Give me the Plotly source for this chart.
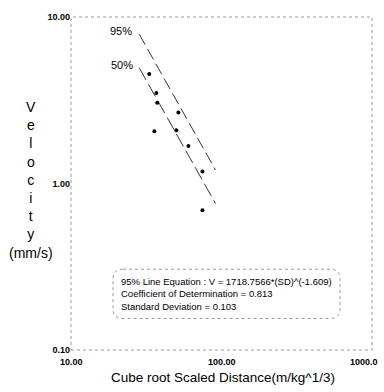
import numpy as np
import plotly.graph_objects as go

# Measured peak particle velocity vs cube-root scaled distance
scaled_distance = [33.1, 36.9, 37.4, 51.7, 35.8, 50.1, 60.3, 74.7, 74.7]
velocity = [4.54, 3.50, 3.06, 2.67, 2.06, 2.09, 1.68, 1.18, 0.69]

# Regression lines V = K * SD^(-b)
slope_b = 1.609
k_95 = 1718.7566
k_50 = 1080.0
line_sd_range = [28.4, 91.2]

x_ticks = [10, 100, 1000]
x_tick_text = ["10.00", "100.00", "1000.0"]
y_ticks = [0.1, 1, 10]
y_tick_text = ["0.10", "1.00", "10.00"]

equation_lines = [
    "95% Line Equation : V = 1718.7566*(SD)^(-1.609)",
    "Coefficient of Determination = 0.813",
    "Standard Deviation = 0.103",
]

W, H = 384, 392
L, R, T, B = 71, 12, 12, 42

sd_line = np.logspace(np.log10(line_sd_range[0]), np.log10(line_sd_range[1]), 50)
v95 = k_95 * sd_line ** (-slope_b)
v50 = k_50 * sd_line ** (-slope_b)

fig = go.Figure()
fig.add_trace(go.Scatter(x=sd_line, y=v95, mode="lines",
                         line=dict(color="#333", width=1, dash="12px,5px"), hoverinfo="skip"))
fig.add_trace(go.Scatter(x=sd_line, y=v50, mode="lines",
                         line=dict(color="#333", width=1, dash="14px,5px"), hoverinfo="skip"))
fig.add_trace(go.Scatter(x=scaled_distance, y=velocity, mode="markers",
                         marker=dict(color="black", size=4)))

tick_font = dict(family="Liberation Sans Narrow, Liberation Sans", size=9, color="black")
fig.update_xaxes(type="log", range=[1, 3], tickvals=x_ticks, showticklabels=False,
                 showgrid=False, zeroline=False, showline=False, ticks="")
fig.update_yaxes(type="log", range=[-1, 1], tickvals=y_ticks,
                 ticktext=["<b>%s</b>" % t for t in y_tick_text],
                 showgrid=False, zeroline=False, showline=False, ticks="",
                 tickfont=tick_font)

# X tick labels sit a little lower than the default position;
# the last one is kept inside the page edge
for i, (v, t) in enumerate(zip(x_ticks, x_tick_text)):
    last = i == len(x_ticks) - 1
    fig.add_annotation(x=np.log10(v), xref="x", y=0, yref="paper", yshift=-12,
                       xshift=8 if last else 0,
                       text="<b>%s</b>" % t, showarrow=False,
                       xanchor="right" if last else "center", yanchor="middle",
                       font=tick_font)

# Faint dotted frame around the plot area
fig.add_shape(type="rect", xref="paper", yref="paper", x0=0, x1=1, y0=0, y1=1,
              line=dict(color="#9a9a9a", width=1, dash="dot"))

# Line labels placed at the start of each line
lbl_font = dict(family="Liberation Sans Narrow, Liberation Sans", size=11, color="black")
fig.add_annotation(x=np.log10(sd_line[0]), y=np.log10(v95[0]), text="95%",
                   showarrow=False, xanchor="right", xshift=-5, yshift=3, font=lbl_font)
fig.add_annotation(x=np.log10(sd_line[0]), y=np.log10(v50[0]), text="50%",
                   showarrow=False, xanchor="right", xshift=-4, yshift=3, font=lbl_font)

# Equation box (rounded, dotted)
pw, ph = W - L - R, H - T - B
def px(xp):
    return (xp - L) / pw
def py(yp):
    return 1 - (yp - T) / ph
x0, x1, y0, y1, rr = 113, 340, 268, 318, 10
path = (f"M {px(x0+rr)},{py(y0)} L {px(x1-rr)},{py(y0)} "
        f"Q {px(x1)},{py(y0)} {px(x1)},{py(y0+rr)} L {px(x1)},{py(y1-rr)} "
        f"Q {px(x1)},{py(y1)} {px(x1-rr)},{py(y1)} L {px(x0+rr)},{py(y1)} "
        f"Q {px(x0)},{py(y1)} {px(x0)},{py(y1-rr)} L {px(x0)},{py(y0+rr)} "
        f"Q {px(x0)},{py(y0)} {px(x0+rr)},{py(y0)} Z")
fig.add_shape(type="path", xref="paper", yref="paper", path=path,
              line=dict(color="#9a9a9a", width=1, dash="dot"))
fig.add_annotation(xref="paper", yref="paper", x=px(119), y=py(293),
                   xanchor="left", yanchor="middle", align="left",
                   text="<br>".join(equation_lines), showarrow=False,
                   font=dict(family="Liberation Sans Narrow, Liberation Sans", size=9.5, color="black"))

# Axis titles
title_font = dict(family="Liberation Sans", size=14, color="black")
fig.add_annotation(xref="paper", yref="paper", x=px(31), y=py(177),
                   text="<br>".join(list("Velocity")) + "<br>(mm/s)",
                   showarrow=False, xanchor="center", yanchor="middle", align="center",
                   font=title_font)
fig.add_annotation(xref="paper", yref="paper", x=px(223), y=py(378),
                   text="Cube root Scaled Distance(m/kg^1/3)", showarrow=False,
                   xanchor="center", yanchor="middle",
                   font=dict(family="Liberation Sans", size=13.5, color="black"))

fig.update_layout(width=W, height=H, margin=dict(l=L, r=R, t=T, b=B),
                  paper_bgcolor="white", plot_bgcolor="white", showlegend=False)
fig.write_html("out.html")
